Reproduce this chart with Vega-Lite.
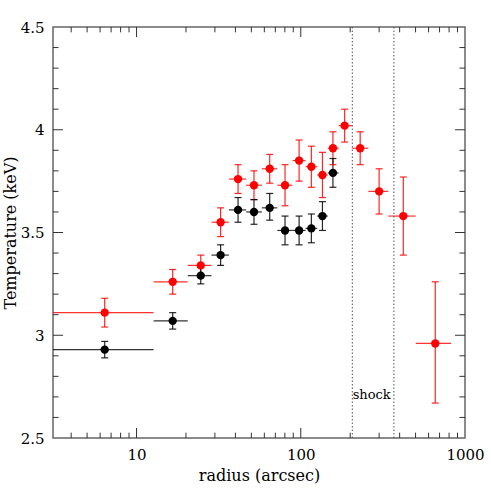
{
  "$schema": "https://vega.github.io/schema/vega-lite/v6.json",
  "width": 412,
  "height": 411,
  "autosize": {"type": "none"},
  "padding": {"left": 53, "top": 27, "right": 26, "bottom": 53},
  "background": "white",
  "config": {
    "view": {"stroke": "#666666", "strokeWidth": 1.5},
    "font": "DejaVu Serif",
    "axis": {"grid": false, "domain": false, "labelFont": "DejaVu Serif", "titleFont": "DejaVu Serif", "labelFontSize": 15, "titleFontSize": 16, "titleFontWeight": "normal", "labelColor": "#000", "titleColor": "#000"}
  },
  "datasets": {
    "pts": [
      {"set": "red", "r": 6.4, "xlo": 2, "xhi": 12.7, "T": 3.11, "lo": 3.04, "hi": 3.18},
      {"set": "red", "r": 16.6, "xlo": 12.7, "xhi": 20.5, "T": 3.26, "lo": 3.20, "hi": 3.32},
      {"set": "red", "r": 24.6, "xlo": 20.5, "xhi": 28.6, "T": 3.34, "lo": 3.29, "hi": 3.39},
      {"set": "red", "r": 32.5, "xlo": 28.6, "xhi": 36.5, "T": 3.55, "lo": 3.48, "hi": 3.62},
      {"set": "red", "r": 41.5, "xlo": 36.5, "xhi": 46.5, "T": 3.76, "lo": 3.69, "hi": 3.83},
      {"set": "red", "r": 51.9, "xlo": 46.5, "xhi": 58, "T": 3.73, "lo": 3.66, "hi": 3.80},
      {"set": "red", "r": 64.7, "xlo": 58, "xhi": 72, "T": 3.81, "lo": 3.74, "hi": 3.88},
      {"set": "red", "r": 80.2, "xlo": 72, "xhi": 89, "T": 3.73, "lo": 3.63, "hi": 3.83},
      {"set": "red", "r": 97.7, "xlo": 89, "xhi": 107, "T": 3.85, "lo": 3.75, "hi": 3.95},
      {"set": "red", "r": 116, "xlo": 107, "xhi": 126, "T": 3.82, "lo": 3.72, "hi": 3.92},
      {"set": "red", "r": 135.5, "xlo": 126, "xhi": 146, "T": 3.78, "lo": 3.67, "hi": 3.89},
      {"set": "red", "r": 157, "xlo": 146, "xhi": 170, "T": 3.91, "lo": 3.83, "hi": 3.99},
      {"set": "red", "r": 185, "xlo": 170, "xhi": 206, "T": 4.02, "lo": 3.94, "hi": 4.10},
      {"set": "red", "r": 230, "xlo": 206, "xhi": 258, "T": 3.91, "lo": 3.83, "hi": 3.99},
      {"set": "red", "r": 300, "xlo": 258, "xhi": 341, "T": 3.70, "lo": 3.59, "hi": 3.81},
      {"set": "red", "r": 421, "xlo": 341, "xhi": 501, "T": 3.58, "lo": 3.39, "hi": 3.77},
      {"set": "red", "r": 659, "xlo": 501, "xhi": 822, "T": 2.96, "lo": 2.67, "hi": 3.26},
      {"set": "black", "r": 6.4, "xlo": 2, "xhi": 12.7, "T": 2.93, "lo": 2.89, "hi": 2.97},
      {"set": "black", "r": 16.6, "xlo": 12.7, "xhi": 20.5, "T": 3.07, "lo": 3.03, "hi": 3.11},
      {"set": "black", "r": 24.6, "xlo": 20.5, "xhi": 28.6, "T": 3.29, "lo": 3.25, "hi": 3.33},
      {"set": "black", "r": 32.5, "xlo": 28.6, "xhi": 36.5, "T": 3.39, "lo": 3.34, "hi": 3.44},
      {"set": "black", "r": 41.5, "xlo": 36.5, "xhi": 46.5, "T": 3.61, "lo": 3.55, "hi": 3.67},
      {"set": "black", "r": 51.9, "xlo": 46.5, "xhi": 58, "T": 3.60, "lo": 3.54, "hi": 3.66},
      {"set": "black", "r": 64.7, "xlo": 58, "xhi": 72, "T": 3.62, "lo": 3.56, "hi": 3.69},
      {"set": "black", "r": 80.2, "xlo": 72, "xhi": 89, "T": 3.51, "lo": 3.44, "hi": 3.58},
      {"set": "black", "r": 97.7, "xlo": 89, "xhi": 107, "T": 3.51, "lo": 3.44, "hi": 3.58},
      {"set": "black", "r": 116, "xlo": 107, "xhi": 126, "T": 3.52, "lo": 3.45, "hi": 3.59},
      {"set": "black", "r": 135.5, "xlo": 126, "xhi": 146, "T": 3.58, "lo": 3.51, "hi": 3.65},
      {"set": "black", "r": 157, "xlo": 146, "xhi": 170, "T": 3.79, "lo": 3.72, "hi": 3.86}
    ],
    "xmajor": [{"v": 10}, {"v": 100}],
    "xminor": [{"v": 4}, {"v": 5}, {"v": 6}, {"v": 7}, {"v": 8}, {"v": 9}, {"v": 20}, {"v": 30}, {"v": 40}, {"v": 50}, {"v": 60}, {"v": 70}, {"v": 80}, {"v": 90}, {"v": 200}, {"v": 300}, {"v": 400}, {"v": 500}, {"v": 600}, {"v": 700}, {"v": 800}, {"v": 900}],
    "ymajor": [{"v": 3.0}, {"v": 3.5}, {"v": 4.0}],
    "yminor": [{"v": 2.6}, {"v": 2.7}, {"v": 2.8}, {"v": 2.9}, {"v": 3.1}, {"v": 3.2}, {"v": 3.3}, {"v": 3.4}, {"v": 3.6}, {"v": 3.7}, {"v": 3.8}, {"v": 3.9}, {"v": 4.1}, {"v": 4.2}, {"v": 4.3}, {"v": 4.4}]
  },
  "resolve": {"axis": {"x": "independent", "y": "independent"}},
  "layer": [
    {
      "data": {"name": "pts"},
      "mark": {"type": "rule", "clip": true, "strokeWidth": 1.2, "opacity": 0.8},
      "encoding": {
        "x": {"field": "xlo", "type": "quantitative", "scale": {"type": "log", "domain": [3.1, 1000], "nice": false},
          "axis": {"orient": "bottom", "values": [10, 100, 1000], "format": "d", "ticks": false, "labelPadding": 9, "title": "radius (arcsec)", "titlePadding": 5, "labelFlush": false}},
        "x2": {"field": "xhi"},
        "y": {"field": "T", "type": "quantitative", "scale": {"domain": [2.5, 4.5], "zero": false, "nice": false},
          "axis": {"orient": "left", "values": [2.5, 3, 3.5, 4, 4.5], "format": "~g", "ticks": false, "labelPadding": 9, "title": "Temperature (keV)", "titlePadding": 2, "labelFlush": false}},
        "color": {"field": "set", "type": "nominal", "scale": {"domain": ["red", "black"], "range": ["#ff0000", "#000000"]}, "legend": null}
      }
    },
    {
      "data": {"name": "pts"},
      "mark": {"type": "rule", "clip": true, "strokeWidth": 1.2, "opacity": 0.85},
      "encoding": {
        "x": {"field": "r", "type": "quantitative", "axis": null},
        "y": {"field": "lo", "type": "quantitative", "axis": null},
        "y2": {"field": "hi"},
        "color": {"field": "set", "type": "nominal", "legend": null}
      }
    },
    {
      "data": {"name": "pts"},
      "mark": {"type": "tick", "orient": "horizontal", "size": 7, "thickness": 1.2, "opacity": 0.85},
      "encoding": {
        "x": {"field": "r", "type": "quantitative", "axis": null},
        "y": {"field": "lo", "type": "quantitative", "axis": null},
        "color": {"field": "set", "type": "nominal", "legend": null}
      }
    },
    {
      "data": {"name": "pts"},
      "mark": {"type": "tick", "orient": "horizontal", "size": 7, "thickness": 1.2, "opacity": 0.85},
      "encoding": {
        "x": {"field": "r", "type": "quantitative", "axis": null},
        "y": {"field": "hi", "type": "quantitative", "axis": null},
        "color": {"field": "set", "type": "nominal", "legend": null}
      }
    },
    {
      "data": {"name": "pts"},
      "mark": {"type": "point", "filled": true, "size": 70, "opacity": 1},
      "encoding": {
        "x": {"field": "r", "type": "quantitative", "axis": null},
        "y": {"field": "T", "type": "quantitative", "axis": null},
        "color": {"field": "set", "type": "nominal", "legend": null}
      }
    },
    {
      "data": {"name": "xmajor"},
      "mark": {"type": "rule", "color": "#333333", "strokeWidth": 1},
      "encoding": {"x": {"field": "v", "type": "quantitative", "axis": null}, "y": {"datum": 2.5, "axis": null}, "y2": {"datum": 2.549}}
    },
    {
      "data": {"name": "xmajor"},
      "mark": {"type": "rule", "color": "#333333", "strokeWidth": 1},
      "encoding": {"x": {"field": "v", "type": "quantitative", "axis": null}, "y": {"datum": 4.5, "axis": null}, "y2": {"datum": 4.451}}
    },
    {
      "data": {"name": "xminor"},
      "mark": {"type": "rule", "color": "#333333", "strokeWidth": 1},
      "encoding": {"x": {"field": "v", "type": "quantitative", "axis": null}, "y": {"datum": 2.5, "axis": null}, "y2": {"datum": 2.526}}
    },
    {
      "data": {"name": "xminor"},
      "mark": {"type": "rule", "color": "#333333", "strokeWidth": 1},
      "encoding": {"x": {"field": "v", "type": "quantitative", "axis": null}, "y": {"datum": 4.5, "axis": null}, "y2": {"datum": 4.474}}
    },
    {
      "data": {"name": "ymajor"},
      "mark": {"type": "rule", "color": "#333333", "strokeWidth": 1},
      "encoding": {"y": {"field": "v", "type": "quantitative", "axis": null}, "x": {"datum": 3.1, "axis": null}, "x2": {"datum": 3.57}}
    },
    {
      "data": {"name": "ymajor"},
      "mark": {"type": "rule", "color": "#333333", "strokeWidth": 1},
      "encoding": {"y": {"field": "v", "type": "quantitative", "axis": null}, "x": {"datum": 1000, "axis": null}, "x2": {"datum": 869}}
    },
    {
      "data": {"name": "yminor"},
      "mark": {"type": "rule", "color": "#333333", "strokeWidth": 1},
      "encoding": {"y": {"field": "v", "type": "quantitative", "axis": null}, "x": {"datum": 3.1, "axis": null}, "x2": {"datum": 3.35}}
    },
    {
      "data": {"name": "yminor"},
      "mark": {"type": "rule", "color": "#333333", "strokeWidth": 1},
      "encoding": {"y": {"field": "v", "type": "quantitative", "axis": null}, "x": {"datum": 1000, "axis": null}, "x2": {"datum": 925}}
    },
    {
      "data": {"values": [{"pos": 206}, {"pos": 369}]},
      "mark": {"type": "rule", "strokeDash": [1.5, 2], "color": "#555555", "strokeWidth": 1},
      "encoding": {
        "x": {"field": "pos", "type": "quantitative", "axis": null}
      }
    },
    {
      "data": {"values": [{"pos": 207, "val": 2.71, "label": "shock"}]},
      "mark": {"type": "text", "align": "left", "baseline": "middle", "font": "DejaVu Serif", "fontSize": 13, "color": "#000"},
      "encoding": {
        "x": {"field": "pos", "type": "quantitative", "axis": null},
        "y": {"field": "val", "type": "quantitative", "axis": null},
        "text": {"field": "label"}
      }
    }
  ]
}
